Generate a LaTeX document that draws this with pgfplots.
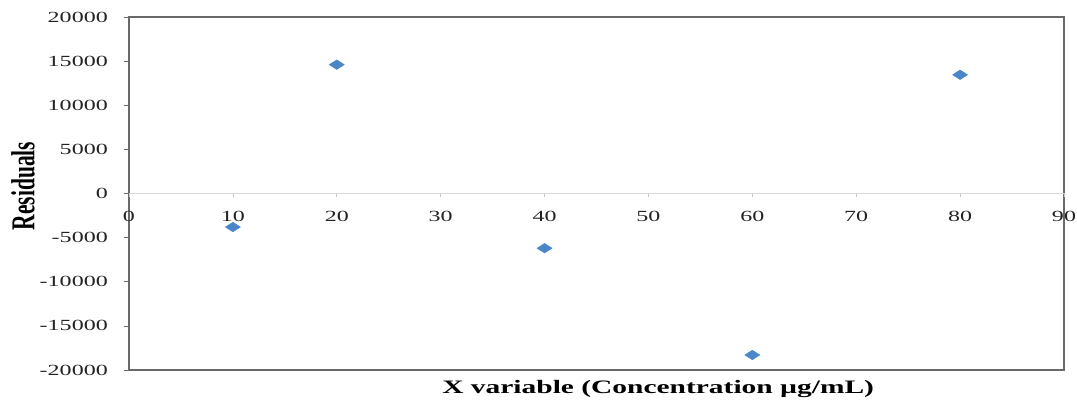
\documentclass[border=0pt]{standalone}
\usepackage{pgfplots}
\pgfplotsset{compat=1.18}
\usepackage{graphicx}
\usepackage{fontspec}
\setmainfont{Liberation Serif}[FakeStretch=1.55]
\newfontfamily\plainserif{Liberation Serif}
\definecolor{markblue}{RGB}{74,135,200}
\definecolor{framegrey}{RGB}{105,105,105}
\definecolor{zerogrey}{RGB}{215,215,215}
\definecolor{textgrey}{RGB}{35,35,35}
\begin{document}
\begin{tikzpicture}
\pgfplotsset{
  common/.style={
    width=935pt, height=353pt, scale only axis,
    xmin=0, xmax=90, ymin=-20000, ymax=20000,
    at={(0,0)}, anchor=south west,
    /pgf/number format/assume math mode=true,
    /pgf/number format/fixed,
    /pgf/number format/1000 sep={},
    scaled x ticks=false, scaled y ticks=false,
    tick label style={font=\fontsize{15.5}{18}\selectfont, text=textgrey},
  }
}
\begin{axis}[common,
  axis line style={framegrey, line width=1.3pt},
  xtick=\empty,
  ytick={-20000,-15000,...,20000},
  ytick pos=left, tick align=outside,
  major tick length=5pt,
  ytick style={framegrey, line width=0.6pt},
  yticklabel style={anchor=east, inner sep=0pt, xshift=-16pt},
  xlabel={\bfseries\fontsize{19}{22}\selectfont X variable (Concentration µg/mL)},
  xlabel style={at={(axis description cs:0.566,0)}, anchor=base, inner sep=0pt, yshift=-24pt},
]
\end{axis}
\begin{axis}[common,
  axis x line=middle, axis y line=none,
  axis line style={-, zerogrey, line width=1.6pt},
  hide obscured x ticks=false,
  xtick={0,10,...,90},
  tick align=outside, major tick length=4pt,
  xtick style={draw=zerogrey!80!gray, line width=0.6pt},
  xticklabel style={anchor=north, inner sep=0pt, yshift=-13pt},
]
\addplot[only marks, mark=diamond*, mark size=4.8pt,
  mark options={xscale=2.1, fill=markblue, draw=markblue, line width=0.4pt}]
  coordinates {(10,-3800) (20,14600) (40,-6200) (60,-18300) (80,13450)};
\end{axis}
\node[rotate=90, anchor=center, inner sep=0pt] at (-106pt,184pt)
  {\scalebox{1}[1.55]{\plainserif\bfseries\fontsize{21.5}{25}\selectfont Residuals}};
\pgfresetboundingbox
\path (-129pt,-33pt) rectangle (948pt,370pt);
\end{tikzpicture}
\end{document}
